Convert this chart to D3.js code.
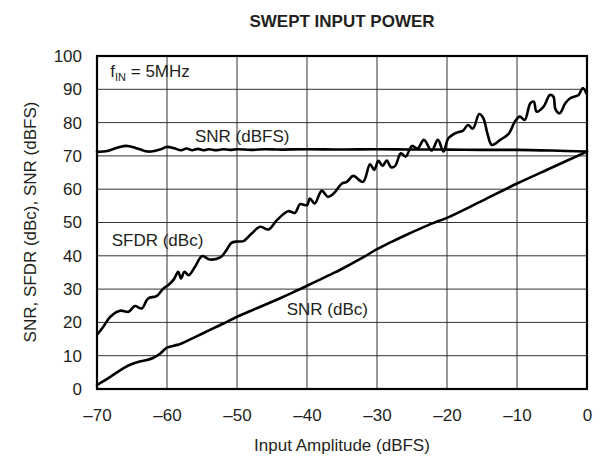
<!DOCTYPE html>
<html><head><meta charset="utf-8">
<script src="https://cdn.jsdelivr.net/npm/d3@7"></script>
<style>
body{margin:0;background:#fff;}
text{font-family:"Liberation Sans",Arial,Helvetica,sans-serif;fill:#231f20;}
</style></head>
<body><svg id="c" width="603" height="458"></svg>
<script>
const xTicks = [-70,-60,-50,-40,-30,-20,-10,0];
const yTicks = [0,10,20,30,40,50,60,70,80,90,100];

const sfdrX = [-69.9,-69.1,-68.1,-66.7,-65.5,-64.6,-63.6,-62.7,-61.5,-60.5,-59.8,-59.0,-58.4,-58.0,-57.5,-56.9,-56.0,-55.0,-53.9,-52.4,-51.5,-50.8,-50.0,-49.1,-47.9,-46.7,-45.5,-44.3,-42.7,-41.7,-41.0,-40.0,-39.6,-38.9,-37.9,-37.0,-36.2,-35.0,-34.3,-33.4,-32.0,-31.0,-30.4,-29.8,-29.2,-28.6,-28.0,-27.4,-26.6,-25.9,-25.0,-24.2,-23.3,-22.2,-21.3,-20.5,-19.8,-18.6,-17.7,-17.0,-16.3,-15.4,-14.8,-14.2,-13.6,-12.4,-11.2,-10.3,-9.6,-8.9,-8.1,-7.6,-7.2,-6.2,-5.3,-4.8,-4.5,-3.9,-3.1,-2.4,-1.2,-0.6,-0.1];
const sfdrY = [16.5,18.7,21.7,23.5,23.2,24.9,24.2,27.2,27.9,30.2,31.2,33.0,35.2,33.2,35.2,34.2,36.7,39.9,38.9,39.5,41.7,43.9,44.3,44.4,46.7,48.7,47.9,50.7,53.4,52.9,55.5,55.2,57.2,55.7,59.5,57.7,58.7,61.7,62.2,64.0,62.2,67.5,65.8,68.5,67.0,68.6,66.6,67.0,70.8,69.8,73.0,72.2,74.8,71.6,74.8,71.3,75.3,77.0,77.6,79.3,78.2,82.6,81.3,76.5,73.3,74.8,76.6,80.3,81.8,80.8,85.8,86.3,83.3,84.8,88.3,87.8,84.0,82.8,85.8,87.3,88.3,90.4,88.8];

const snrDbcX = [-70,-68,-66,-65,-64,-63,-62,-61,-60,-59,-58,-56,-54,-52,-50,-48,-46,-44,-42,-40,-38,-36,-34,-32,-30,-28,-26,-24,-22,-20,-15,-10,-5,0];
const snrDbcY = [1.2,3.8,6.5,7.5,8.2,8.6,9.3,10.6,12.4,13.0,13.6,15.6,17.6,19.6,21.7,23.5,25.3,27.1,29.0,31.0,33.0,35.0,37.2,39.5,42.0,44.1,46.1,48.0,49.8,51.4,56.5,61.7,66.5,71.3];

const snrDbfsX = [-70,-68.5,-67,-65.8,-64.5,-63.2,-62.3,-61,-60,-59,-58,-57.2,-56.4,-55.6,-54.8,-54,-53,-52,-51,-50,-48,-46,-44,-40,-35,-30,-25,-20,-15,-10,-5,0];
const snrDbfsY = [71.2,71.5,72.5,73.0,72.4,71.5,71.3,71.9,72.7,72.3,71.7,72.2,71.7,72.1,71.7,72.0,71.7,72.0,71.8,72.0,71.8,72.0,71.9,72.0,71.9,72.0,71.9,71.9,71.8,71.8,71.6,71.3];

const svg = d3.select("#c");
const m = {l:97, r:587, t:56, b:389};
const x = d3.scaleLinear().domain([-70,0]).range([m.l,m.r]);
const y = d3.scaleLinear().domain([0,100]).range([m.b,m.t]);
const fmt = d => d < 0 ? "\u2013" + (-d) : String(d);

// grid
svg.append("g").selectAll("line.v").data(xTicks).join("line")
  .attr("x1",d=>x(d)).attr("x2",d=>x(d)).attr("y1",m.t).attr("y2",m.b)
  .attr("stroke","#333").attr("stroke-width",1);
svg.append("g").selectAll("line.h").data(yTicks).join("line")
  .attr("x1",m.l).attr("x2",m.r).attr("y1",d=>y(d)).attr("y2",d=>y(d))
  .attr("stroke","#333").attr("stroke-width",1);

// axes labels via d3 axes
const xa = svg.append("g").attr("transform",`translate(0,${m.b})`)
  .call(d3.axisBottom(x).tickValues(xTicks).tickFormat(fmt).tickSize(0).tickPadding(20));
xa.select(".domain").remove();
xa.selectAll("text").attr("font-size",17).attr("fill","#231f20").attr("font-family","Liberation Sans, Arial, sans-serif");
const ya = svg.append("g").attr("transform",`translate(${m.l},0)`)
  .call(d3.axisLeft(y).tickValues(yTicks).tickFormat(fmt).tickSize(0).tickPadding(15));
ya.select(".domain").remove();
ya.selectAll("text").attr("font-size",17).attr("fill","#231f20").attr("font-family","Liberation Sans, Arial, sans-serif");

// curves
const line = d3.line().x(d=>x(d[0])).y(d=>y(d[1])).curve(d3.curveCatmullRom.alpha(0.5));
const series = [[snrDbfsX,snrDbfsY],[snrDbcX,snrDbcY],[sfdrX,sfdrY]];
svg.append("g").selectAll("path").data(series).join("path")
  .attr("d",s=>line(s[0].map((v,i)=>[v,s[1][i]])))
  .attr("fill","none").attr("stroke","#000").attr("stroke-width",2.6)
  .attr("stroke-linejoin","round").attr("stroke-linecap","round");

// border
svg.append("rect").attr("x",m.l).attr("y",m.t).attr("width",m.r-m.l).attr("height",m.b-m.t)
  .attr("fill","none").attr("stroke","#000").attr("stroke-width",2.2);

// title
svg.append("text").attr("x",342).attr("y",27).attr("text-anchor","middle")
  .attr("font-size",17).attr("font-weight","bold").text("SWEPT INPUT POWER");
// axis titles
svg.append("text").attr("x",342).attr("y",451).attr("text-anchor","middle")
  .attr("font-size",17).text("Input Amplitude (dBFS)");
svg.append("text").attr("transform","translate(36,222) rotate(-90)").attr("text-anchor","middle")
  .attr("font-size",17).text("SNR, SFDR (dBc), SNR (dBFS)");

// annotations
const f = svg.append("text").attr("x",x(-68.1)).attr("y",y(93.7)).attr("font-size",17);
f.append("tspan").text("f");
f.append("tspan").attr("font-size",11).attr("dy",4).text("IN");
f.append("tspan").attr("dy",-4).text(" = 5MHz");
svg.append("text").attr("x",x(-56)).attr("y",y(74.2)).attr("font-size",17).text("SNR (dBFS)");
svg.append("text").attr("x",x(-67.9)).attr("y",y(42.9)).attr("font-size",17).text("SFDR (dBc)");
svg.append("text").attr("x",x(-42.9)).attr("y",y(22.2)).attr("font-size",17).text("SNR (dBc)");
</script></body></html>
